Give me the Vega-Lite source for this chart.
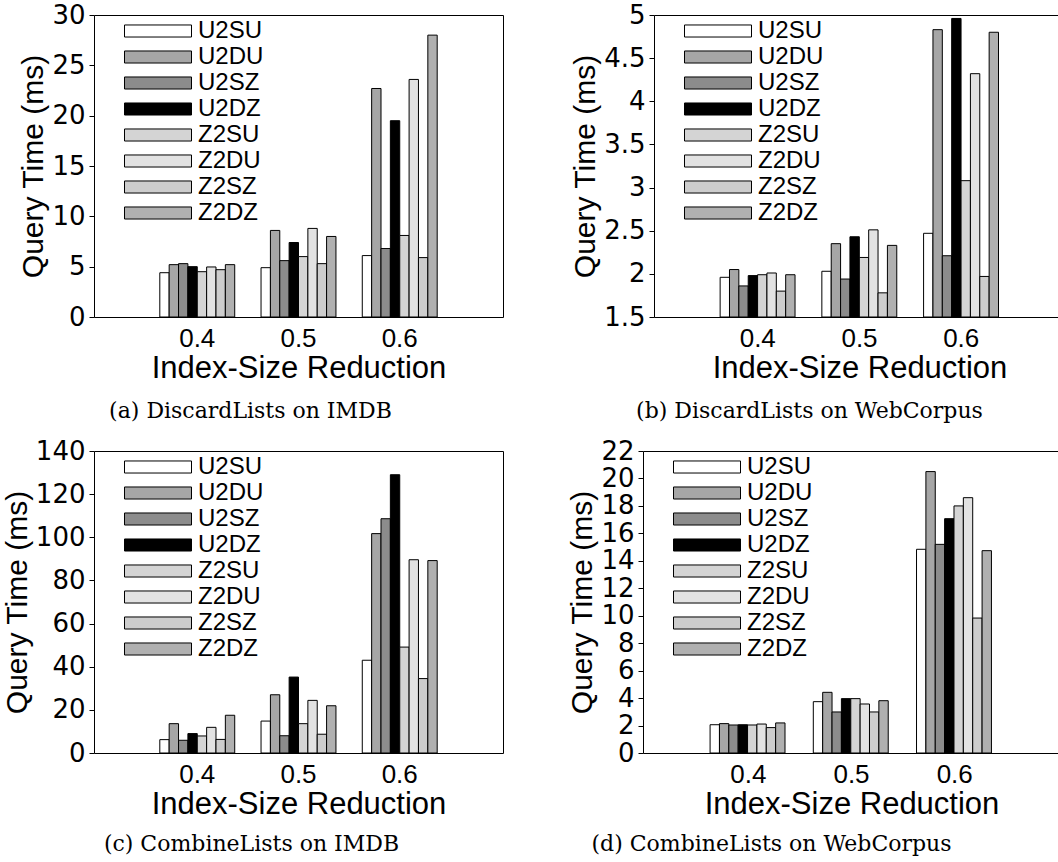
{
  "$schema": "https://vega.github.io/schema/vega-lite/v6.json",
  "background": "white",
  "padding": 1,
  "datasets": {
    "times": [
      {"panel": "a", "reduction": "0.4", "series": "U2SU", "ms": 4.4},
      {"panel": "a", "reduction": "0.4", "series": "U2DU", "ms": 5.2},
      {"panel": "a", "reduction": "0.4", "series": "U2SZ", "ms": 5.3},
      {"panel": "a", "reduction": "0.4", "series": "U2DZ", "ms": 5.0},
      {"panel": "a", "reduction": "0.4", "series": "Z2SU", "ms": 4.5},
      {"panel": "a", "reduction": "0.4", "series": "Z2DU", "ms": 4.97},
      {"panel": "a", "reduction": "0.4", "series": "Z2SZ", "ms": 4.7},
      {"panel": "a", "reduction": "0.4", "series": "Z2DZ", "ms": 5.2},
      {"panel": "a", "reduction": "0.5", "series": "U2SU", "ms": 4.9},
      {"panel": "a", "reduction": "0.5", "series": "U2DU", "ms": 8.6},
      {"panel": "a", "reduction": "0.5", "series": "U2SZ", "ms": 5.6},
      {"panel": "a", "reduction": "0.5", "series": "U2DZ", "ms": 7.4},
      {"panel": "a", "reduction": "0.5", "series": "Z2SU", "ms": 6.0},
      {"panel": "a", "reduction": "0.5", "series": "Z2DU", "ms": 8.8},
      {"panel": "a", "reduction": "0.5", "series": "Z2SZ", "ms": 5.3},
      {"panel": "a", "reduction": "0.5", "series": "Z2DZ", "ms": 8.0},
      {"panel": "a", "reduction": "0.6", "series": "U2SU", "ms": 6.1},
      {"panel": "a", "reduction": "0.6", "series": "U2DU", "ms": 22.7},
      {"panel": "a", "reduction": "0.6", "series": "U2SZ", "ms": 6.8},
      {"panel": "a", "reduction": "0.6", "series": "U2DZ", "ms": 19.5},
      {"panel": "a", "reduction": "0.6", "series": "Z2SU", "ms": 8.1},
      {"panel": "a", "reduction": "0.6", "series": "Z2DU", "ms": 23.6},
      {"panel": "a", "reduction": "0.6", "series": "Z2SZ", "ms": 5.9},
      {"panel": "a", "reduction": "0.6", "series": "Z2DZ", "ms": 28.0},

      {"panel": "b", "reduction": "0.4", "series": "U2SU", "ms": 1.96},
      {"panel": "b", "reduction": "0.4", "series": "U2DU", "ms": 2.05},
      {"panel": "b", "reduction": "0.4", "series": "U2SZ", "ms": 1.86},
      {"panel": "b", "reduction": "0.4", "series": "U2DZ", "ms": 1.98},
      {"panel": "b", "reduction": "0.4", "series": "Z2SU", "ms": 1.99},
      {"panel": "b", "reduction": "0.4", "series": "Z2DU", "ms": 2.01},
      {"panel": "b", "reduction": "0.4", "series": "Z2SZ", "ms": 1.8},
      {"panel": "b", "reduction": "0.4", "series": "Z2DZ", "ms": 1.99},
      {"panel": "b", "reduction": "0.5", "series": "U2SU", "ms": 2.03},
      {"panel": "b", "reduction": "0.5", "series": "U2DU", "ms": 2.35},
      {"panel": "b", "reduction": "0.5", "series": "U2SZ", "ms": 1.94},
      {"panel": "b", "reduction": "0.5", "series": "U2DZ", "ms": 2.43},
      {"panel": "b", "reduction": "0.5", "series": "Z2SU", "ms": 2.19},
      {"panel": "b", "reduction": "0.5", "series": "Z2DU", "ms": 2.51},
      {"panel": "b", "reduction": "0.5", "series": "Z2SZ", "ms": 1.78},
      {"panel": "b", "reduction": "0.5", "series": "Z2DZ", "ms": 2.33},
      {"panel": "b", "reduction": "0.6", "series": "U2SU", "ms": 2.47},
      {"panel": "b", "reduction": "0.6", "series": "U2DU", "ms": 4.83},
      {"panel": "b", "reduction": "0.6", "series": "U2SZ", "ms": 2.21},
      {"panel": "b", "reduction": "0.6", "series": "U2DZ", "ms": 4.96},
      {"panel": "b", "reduction": "0.6", "series": "Z2SU", "ms": 3.08},
      {"panel": "b", "reduction": "0.6", "series": "Z2DU", "ms": 4.32},
      {"panel": "b", "reduction": "0.6", "series": "Z2SZ", "ms": 1.97},
      {"panel": "b", "reduction": "0.6", "series": "Z2DZ", "ms": 4.8},

      {"panel": "c", "reduction": "0.4", "series": "U2SU", "ms": 6.2},
      {"panel": "c", "reduction": "0.4", "series": "U2DU", "ms": 13.6},
      {"panel": "c", "reduction": "0.4", "series": "U2SZ", "ms": 5.9},
      {"panel": "c", "reduction": "0.4", "series": "U2DZ", "ms": 9.0},
      {"panel": "c", "reduction": "0.4", "series": "Z2SU", "ms": 7.9},
      {"panel": "c", "reduction": "0.4", "series": "Z2DU", "ms": 11.9},
      {"panel": "c", "reduction": "0.4", "series": "Z2SZ", "ms": 6.3},
      {"panel": "c", "reduction": "0.4", "series": "Z2DZ", "ms": 17.5},
      {"panel": "c", "reduction": "0.5", "series": "U2SU", "ms": 14.8},
      {"panel": "c", "reduction": "0.5", "series": "U2DU", "ms": 27.0},
      {"panel": "c", "reduction": "0.5", "series": "U2SZ", "ms": 8.0},
      {"panel": "c", "reduction": "0.5", "series": "U2DZ", "ms": 35.2},
      {"panel": "c", "reduction": "0.5", "series": "Z2SU", "ms": 13.6},
      {"panel": "c", "reduction": "0.5", "series": "Z2DU", "ms": 24.4},
      {"panel": "c", "reduction": "0.5", "series": "Z2SZ", "ms": 8.7},
      {"panel": "c", "reduction": "0.5", "series": "Z2DZ", "ms": 21.9},
      {"panel": "c", "reduction": "0.6", "series": "U2SU", "ms": 43.0},
      {"panel": "c", "reduction": "0.6", "series": "U2DU", "ms": 101.7},
      {"panel": "c", "reduction": "0.6", "series": "U2SZ", "ms": 108.6},
      {"panel": "c", "reduction": "0.6", "series": "U2DZ", "ms": 129.0},
      {"panel": "c", "reduction": "0.6", "series": "Z2SU", "ms": 49.1},
      {"panel": "c", "reduction": "0.6", "series": "Z2DU", "ms": 89.6},
      {"panel": "c", "reduction": "0.6", "series": "Z2SZ", "ms": 34.5},
      {"panel": "c", "reduction": "0.6", "series": "Z2DZ", "ms": 89.2},

      {"panel": "d", "reduction": "0.4", "series": "U2SU", "ms": 2.06},
      {"panel": "d", "reduction": "0.4", "series": "U2DU", "ms": 2.14},
      {"panel": "d", "reduction": "0.4", "series": "U2SZ", "ms": 2.04},
      {"panel": "d", "reduction": "0.4", "series": "U2DZ", "ms": 2.06},
      {"panel": "d", "reduction": "0.4", "series": "Z2SU", "ms": 2.04},
      {"panel": "d", "reduction": "0.4", "series": "Z2DU", "ms": 2.11},
      {"panel": "d", "reduction": "0.4", "series": "Z2SZ", "ms": 1.85},
      {"panel": "d", "reduction": "0.4", "series": "Z2DZ", "ms": 2.19},
      {"panel": "d", "reduction": "0.5", "series": "U2SU", "ms": 3.74},
      {"panel": "d", "reduction": "0.5", "series": "U2DU", "ms": 4.42},
      {"panel": "d", "reduction": "0.5", "series": "U2SZ", "ms": 2.99},
      {"panel": "d", "reduction": "0.5", "series": "U2DZ", "ms": 3.96},
      {"panel": "d", "reduction": "0.5", "series": "Z2SU", "ms": 3.96},
      {"panel": "d", "reduction": "0.5", "series": "Z2DU", "ms": 3.57},
      {"panel": "d", "reduction": "0.5", "series": "Z2SZ", "ms": 2.99},
      {"panel": "d", "reduction": "0.5", "series": "Z2DZ", "ms": 3.81},
      {"panel": "d", "reduction": "0.6", "series": "U2SU", "ms": 14.84},
      {"panel": "d", "reduction": "0.6", "series": "U2DU", "ms": 20.5},
      {"panel": "d", "reduction": "0.6", "series": "U2SZ", "ms": 15.2},
      {"panel": "d", "reduction": "0.6", "series": "U2DZ", "ms": 17.07},
      {"panel": "d", "reduction": "0.6", "series": "Z2SU", "ms": 18.0},
      {"panel": "d", "reduction": "0.6", "series": "Z2DU", "ms": 18.6},
      {"panel": "d", "reduction": "0.6", "series": "Z2SZ", "ms": 9.83},
      {"panel": "d", "reduction": "0.6", "series": "Z2DZ", "ms": 14.74}
    ]
  },
  "spacing": 14,
  "resolve": {"scale": {"fill": "independent"}, "legend": {"fill": "independent"}},
  "vconcat": [
    {
      "spacing": 66,
      "resolve": {"scale": {"fill": "independent"}, "legend": {"fill": "independent"}},
      "hconcat": [
        {
          "width": 409, "height": 302,
          "title": {"text": "(a) DiscardLists on IMDB", "orient": "bottom", "dx": -48, "offset": 18},
          "data": {"name": "times"},
          "transform": [{"filter": "datum.panel === 'a'"}],
          "mark": {"type": "bar", "stroke": "black", "strokeWidth": 1},
          "encoding": {
            "x": {"field": "reduction", "type": "nominal", "sort": null, "scale": {"paddingInner": 0.26, "paddingOuter": 0.65}, "axis": {"title": "Index-Size Reduction"}},
            "xOffset": {"field": "series", "type": "nominal", "sort": null},
            "y": {"field": "ms", "type": "quantitative", "scale": {"domain": [0, 30], "nice": false}, "axis": {"title": "Query Time (ms)", "values": [0, 5, 10, 15, 20, 25, 30]}},
            "fill": {"field": "series", "type": "nominal", "sort": null, "scale": {"domain": ["U2SU", "U2DU", "U2SZ", "U2DZ", "Z2SU", "Z2DU", "Z2SZ", "Z2DZ"], "range": ["#ffffff", "#a6a6a6", "#8c8c8c", "#000000", "#d4d4d4", "#e2e2e2", "#cdcdcd", "#b0b0b0"]}}
          }
        },
        {
          "width": 411, "height": 302,
          "title": {"text": "(b) DiscardLists on WebCorpus", "orient": "bottom", "dx": -50, "offset": 18},
          "data": {"name": "times"},
          "transform": [{"filter": "datum.panel === 'b'"}],
          "mark": {"type": "bar", "stroke": "black", "strokeWidth": 1},
          "encoding": {
            "x": {"field": "reduction", "type": "nominal", "sort": null, "scale": {"paddingInner": 0.26, "paddingOuter": 0.65}, "axis": {"title": "Index-Size Reduction"}},
            "xOffset": {"field": "series", "type": "nominal", "sort": null},
            "y": {"field": "ms", "type": "quantitative", "scale": {"domain": [1.5, 5], "nice": false, "zero": false}, "axis": {"title": "Query Time (ms)", "format": "~g", "values": [1.5, 2, 2.5, 3, 3.5, 4, 4.5, 5]}},
            "y2": {"datum": 1.5},
            "fill": {"field": "series", "type": "nominal", "sort": null, "scale": {"domain": ["U2SU", "U2DU", "U2SZ", "U2DZ", "Z2SU", "Z2DU", "Z2SZ", "Z2DZ"], "range": ["#ffffff", "#a6a6a6", "#8c8c8c", "#000000", "#d4d4d4", "#e2e2e2", "#cdcdcd", "#b0b0b0"]}}
          }
        }
      ]
    },
    {
      "spacing": 63,
      "resolve": {"scale": {"fill": "independent"}, "legend": {"fill": "independent"}},
      "hconcat": [
        {
          "width": 409, "height": 302,
          "title": {"text": "(c) CombineLists on IMDB", "orient": "bottom", "dx": -47, "offset": 15},
          "data": {"name": "times"},
          "transform": [{"filter": "datum.panel === 'c'"}],
          "mark": {"type": "bar", "stroke": "black", "strokeWidth": 1},
          "encoding": {
            "x": {"field": "reduction", "type": "nominal", "sort": null, "scale": {"paddingInner": 0.26, "paddingOuter": 0.65}, "axis": {"title": "Index-Size Reduction"}},
            "xOffset": {"field": "series", "type": "nominal", "sort": null},
            "y": {"field": "ms", "type": "quantitative", "scale": {"domain": [0, 140], "nice": false}, "axis": {"title": "Query Time (ms)", "values": [0, 20, 40, 60, 80, 100, 120, 140]}},
            "fill": {"field": "series", "type": "nominal", "sort": null, "scale": {"domain": ["U2SU", "U2DU", "U2SZ", "U2DZ", "Z2SU", "Z2DU", "Z2SZ", "Z2DZ"], "range": ["#ffffff", "#a6a6a6", "#8c8c8c", "#000000", "#d4d4d4", "#e2e2e2", "#cdcdcd", "#b0b0b0"]}}
          }
        },
        {
          "width": 417, "height": 302,
          "title": {"text": "(d) CombineLists on WebCorpus", "orient": "bottom", "dx": -80, "offset": 15},
          "data": {"name": "times"},
          "transform": [{"filter": "datum.panel === 'd'"}],
          "mark": {"type": "bar", "stroke": "black", "strokeWidth": 1},
          "encoding": {
            "x": {"field": "reduction", "type": "nominal", "sort": null, "scale": {"paddingInner": 0.26, "paddingOuter": 0.65}, "axis": {"title": "Index-Size Reduction"}},
            "xOffset": {"field": "series", "type": "nominal", "sort": null},
            "y": {"field": "ms", "type": "quantitative", "scale": {"domain": [0, 22], "nice": false}, "axis": {"title": "Query Time (ms)", "values": [0, 2, 4, 6, 8, 10, 12, 14, 16, 18, 20, 22]}},
            "fill": {"field": "series", "type": "nominal", "sort": null, "scale": {"domain": ["U2SU", "U2DU", "U2SZ", "U2DZ", "Z2SU", "Z2DU", "Z2SZ", "Z2DZ"], "range": ["#ffffff", "#a6a6a6", "#8c8c8c", "#000000", "#d4d4d4", "#e2e2e2", "#cdcdcd", "#b0b0b0"]}}
          }
        }
      ]
    }
  ],
  "config": {
    "view": {"stroke": "black", "strokeWidth": 1},
    "axis": {
      "labelFont": "Liberation Sans", "labelFontSize": 26, "labelColor": "black",
      "titleFont": "Liberation Sans", "titleFontSize": 30, "titleFontWeight": "normal", "titleColor": "black",
      "domain": false, "tickColor": "black", "tickSize": 5, "grid": false, "labelPadding": 4, "titlePadding": 3
    },
    "axisY": {"labelFont": "DejaVu Sans", "labelFontSize": 26},
    "axisX": {"labelAngle": 0, "labelPadding": 8, "titlePadding": 2, "titleFontSize": 31, "ticks": false},
    "legend": {
      "orient": "none", "legendX": 30, "legendY": 3, "title": null,
      "symbolType": "M-1,-0.18H1V0.18H-1Z", "symbolSize": 4489,
      "symbolStrokeColor": "black", "symbolStrokeWidth": 1,
      "labelFont": "Liberation Sans", "labelFontSize": 24, "labelColor": "black",
      "labelOffset": 6, "clipHeight": 26, "rowPadding": 0
    },
    "title": {"font": "DejaVu Serif", "fontSize": 22, "fontWeight": "normal", "color": "black"}
  }
}
